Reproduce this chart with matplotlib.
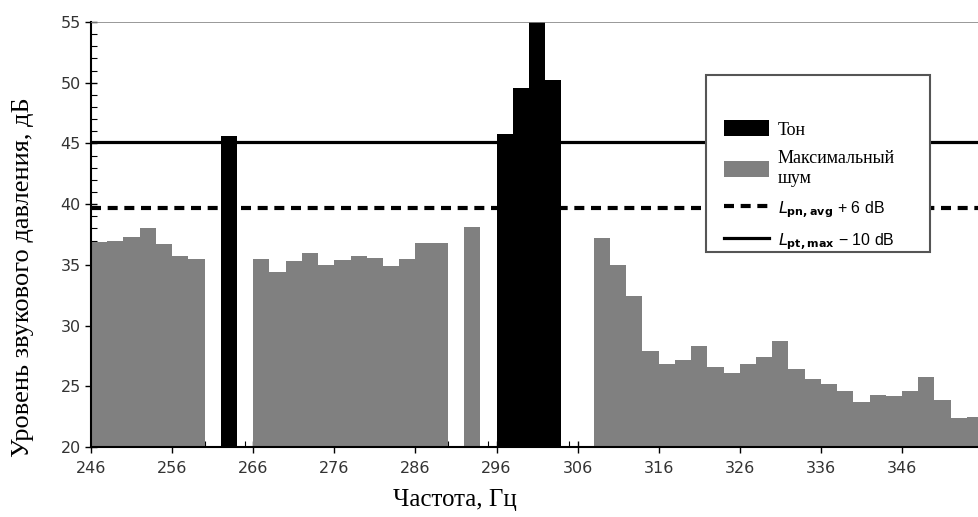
import matplotlib
matplotlib.use('Agg')
import matplotlib.pyplot as plt
from matplotlib.patches import Patch, Rectangle
from matplotlib.lines import Line2D
from matplotlib.ticker import MultipleLocator, FixedLocator

# noise bands (left edge of each 2 Hz bin, level in dB)
noise_f = [246, 248, 250, 252, 254, 256, 258,
           266, 268, 270, 272, 274, 276, 278, 280, 282, 284, 286, 288,
           292,
           308, 310, 312, 314, 316, 318, 320, 322, 324, 326, 328, 330,
           332, 334, 336, 338, 340, 342, 344, 346, 348, 350, 352, 354]
noise_db = [36.9, 37.0, 37.3, 38.0, 36.7, 35.7, 35.5,
            35.5, 34.4, 35.3, 35.95, 35.0, 35.4, 35.75, 35.6, 34.9, 35.5, 36.8, 36.8,
            38.1,
            37.2, 35.0, 32.4, 27.9, 26.8, 27.2, 28.3, 26.6, 26.1, 26.8, 27.4, 28.7,
            26.4, 25.6, 25.2, 24.6, 23.7, 24.3, 24.2, 24.6, 25.8, 23.9, 22.4, 22.5]

# tone bins
tone_f = [262, 296, 298, 300, 302]
tone_db = [45.6, 45.75, 49.6, 56.0, 50.2]

avg_level = 39.7   # Lpn,avg + 6 dB
max_level = 45.1   # Lpt,max - 10 dB

x_ticks = [246, 256, 266, 276, 286, 296, 306, 316, 326, 336, 346]

fig = plt.figure(figsize=(9.79, 5.17), dpi=100)
ax = fig.add_axes([0.093, 0.1354, 0.907, 0.822])

ax.bar(noise_f, [v - 20 for v in noise_db], bottom=20, width=2, align='edge',
       color='#808080', linewidth=0, zorder=2)
ax.bar(tone_f, [v - 20 for v in tone_db], bottom=20, width=2, align='edge',
       color='black', linewidth=0, zorder=2)

ax.axhline(max_level, color='black', lw=2.3, zorder=3)
ax.axhline(avg_level, color='black', lw=3, linestyle=(0, (2.4, 1.6)), zorder=3)

ax.set_xlim(246, 355.5)
ax.set_ylim(20, 55)
ax.xaxis.set_major_locator(FixedLocator(x_ticks))
ax.xaxis.set_minor_locator(MultipleLocator(5))
ax.yaxis.set_major_locator(MultipleLocator(5))
ax.yaxis.set_minor_locator(MultipleLocator(1))
ax.tick_params(which='major', direction='inout', length=8, width=1,
               labelsize=11.5, labelcolor='#333333')
ax.tick_params(which='minor', direction='in', length=4, width=0.8)
ax.tick_params(axis='x', pad=6)

for s in ['left', 'bottom']:
    ax.spines[s].set_linewidth(1.5)
ax.spines['top'].set_linewidth(0.6)
ax.spines['top'].set_color('#888888')
ax.spines['right'].set_visible(False)

serif = ['Liberation Serif', 'DejaVu Serif']
ax.set_xlabel('Частота, Гц', family=serif, fontsize=18)
ax.set_ylabel('Уровень звукового давления, дБ', family=serif, fontsize=19)
ax.xaxis.set_label_coords(0.41, -0.1)
ax.yaxis.set_label_coords(-0.064, 0.40)

# legend box
box = Rectangle((0.692, 0.459), 0.253, 0.416, transform=ax.transAxes,
                facecolor='white', edgecolor='#555555', lw=1.5, zorder=4)
ax.add_patch(box)

handles = [Patch(facecolor='black'),
           Patch(facecolor='#808080'),
           Line2D([], [], color='black', lw=3, linestyle=(0, (2.4, 1.6))),
           Line2D([], [], color='black', lw=2.3)]
labels = ['Тон', 'Максимальный\nшум',
          r'$\mathit{L}_{\mathbf{pn,avg}}$ + 6 dB',
          r'$\mathit{L}_{\mathbf{pt,max}}$ − 10 dB']
leg = ax.legend(handles, labels, loc='lower left', bbox_to_anchor=(0.703, 0.437),
                frameon=False, borderpad=0, handlelength=2.5, handleheight=1.0,
                handletextpad=0.45, labelspacing=0.65,
                prop={'family': serif, 'size': 13})
leg.set_zorder(5)
for t in leg.get_texts()[1:2]:
    t.set_linespacing(1.2)
for t in leg.get_texts()[2:]:
    t.set_family('Liberation Sans')
    t.set_fontsize(11.5)

fig.savefig('out.png', dpi=100)
